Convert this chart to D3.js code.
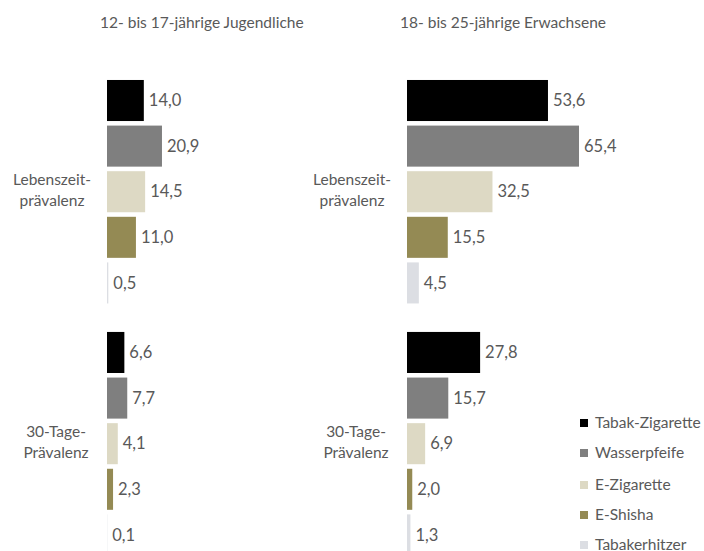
<!DOCTYPE html>
<html>
<head>
<meta charset="utf-8">
<script src="https://cdn.jsdelivr.net/npm/d3@7"></script>
<style>
  body { margin: 0; background: #fff; }
  svg { display: block; font-family: Lato, "Open Sans", sans-serif; }
</style>
</head>
<body>
<div id="chart"></div>
<script>
// categories / series / values
var panels = ['12- bis 17-jährige Jugendliche', '18- bis 25-jährige Erwachsene'];
var groups = ['Lebenszeit-|prävalenz', '30-Tage-|Prävalenz'];
var series = ['Tabak-Zigarette', 'Wasserpfeife', 'E-Zigarette', 'E-Shisha', 'Tabakerhitzer'];
var colors = ['#000000', '#7f7f7f', '#ddd9c4', '#948a54', '#dcdee3'];

// values per panel: [group][series]
var youthLife = [14.0, 20.9, 14.5, 11.0, 0.5];
var youth30 = [6.6, 7.7, 4.1, 2.3, 0.1];
var adultLife = [53.6, 65.4, 32.5, 15.5, 4.5];
var adult30 = [27.8, 15.7, 6.9, 2.0, 1.3];
var panelValues = [[youthLife, youth30], [adultLife, adult30]];

var width = 704, height = 551;
var svg = d3.select('#chart').append('svg')
  .attr('width', width).attr('height', height);

var textColor = '#595959';
var panelLeft = [107, 407];
var groupLabelX = [-55, -51]; // label centres, left of the bars

var x = d3.scaleLinear().domain([0, 70]).range([0, 70 * 2.63]);

// outer band = group, inner band = series
var y0 = d3.scaleBand().domain(groups).range([77.7, 557.7]).paddingInner(0.095);
var y1 = d3.scaleBand().domain(series).range([0, y0.bandwidth()])
  .paddingInner(0.1).paddingOuter(0.05);

var fmt = function(v) { return d3.format('.1f')(v).replace('.', ','); };

panels.forEach(function(title, p) {
  var g = svg.append('g').attr('transform', 'translate(' + panelLeft[p] + ',0)');

  g.append('text')
    .attr('x', -7).attr('y', 28)
    .attr('fill', textColor)
    .style('font-size', '15.5px')
    .text(title);

  groups.forEach(function(grp, gi) {
    var gg = g.append('g').attr('transform', 'translate(0,' + y0(grp) + ')');
    var vals = panelValues[p][gi];

    // group label, two lines
    var lbl = gg.append('text')
      .attr('text-anchor', 'middle')
      .attr('fill', textColor)
      .style('font-size', '15.5px');
    grp.split('|').forEach(function(line, li) {
      lbl.append('tspan')
        .attr('x', groupLabelX[gi])
        .attr('y', y0.bandwidth() / 2 + (li === 0 ? -12 : 9))
        .attr('dy', '0.35em')
        .text(line);
    });

    gg.selectAll('rect')
      .data(vals)
      .enter()
      .append('rect')
      .attr('x', 0)
      .attr('y', function(d, i) { return y1(series[i]); })
      .attr('width', function(d) { return x(d); })
      .attr('height', y1.bandwidth())
      .attr('fill', function(d, i) { return colors[i]; });

    gg.selectAll('text.val')
      .data(vals)
      .enter()
      .append('text')
      .attr('class', 'val')
      .attr('x', function(d) { return x(d) + 5; })
      .attr('y', function(d, i) { return y1(series[i]) + y1.bandwidth() / 2; })
      .attr('dy', '0.35em')
      .attr('fill', textColor)
      .style('font-size', '16.5px')
      .text(fmt);
  });
});

// legend
var legend = svg.append('g').attr('transform', 'translate(580,0)');
var legendY = [423, 453, 485, 515, 545];
series.forEach(function(s, i) {
  legend.append('rect')
    .attr('x', 0).attr('y', legendY[i] - 4)
    .attr('width', 8).attr('height', 8)
    .attr('fill', colors[i]);
  legend.append('text')
    .attr('x', 15).attr('y', legendY[i])
    .attr('dy', '0.35em')
    .attr('fill', textColor)
    .style('font-size', '15.5px')
    .text(s);
});
</script>
</body>
</html>
